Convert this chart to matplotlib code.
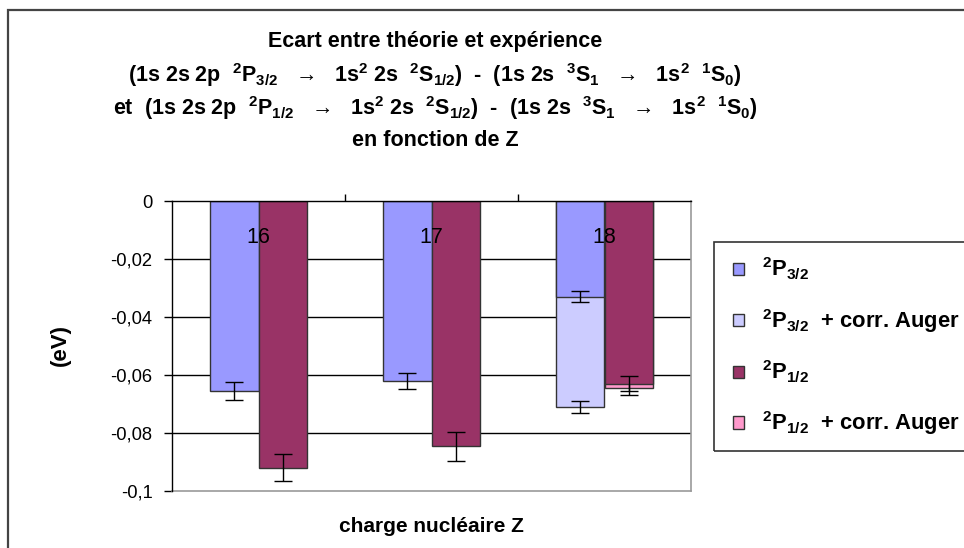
import numpy as np
import matplotlib
matplotlib.use("Agg")
import matplotlib.pyplot as plt
from matplotlib.patches import Patch, Rectangle

plt.rcParams['font.family'] = ['Liberation Sans', 'DejaVu Sans']
plt.rcParams['mathtext.default'] = 'regular'

categories = ['16', '17', '18']
p32 = [-0.0655, -0.062, -0.033]
p32_err = [0.003, 0.0027, 0.0019]
p32_auger = [np.nan, np.nan, -0.071]
p32_auger_err = [0, 0, 0.0021]
p12 = [-0.092, -0.0845, -0.063]
p12_err = [0.0047, 0.005, 0.0025]
p12_auger = [np.nan, np.nan, -0.0645]
p12_auger_err = [0, 0, 0.0025]
yticks = [0, -0.02, -0.04, -0.06, -0.08, -0.1]
ytick_labels = ['0', '-0,02', '-0,04', '-0,06', '-0,08', '-0,1']
legend_labels = [r'$^{2}$P$_{3/2}$', r'$^{2}$P$_{3/2}$  + corr. Auger',
                 r'$^{2}$P$_{1/2}$', r'$^{2}$P$_{1/2}$  + corr. Auger']
colors = ['#9999FF', '#CCCCFF', '#993366', '#FF99CC']

W, H = 964, 548
fig = plt.figure(figsize=(W / 100, H / 100), dpi=100)
ax = fig.add_axes([172 / W, 1 - 491 / H, (691 - 172) / W, (491 - 201) / H])

x = np.arange(len(categories))
w = 0.283
ekw = dict(ecolor='black', elinewidth=1, capsize=6.5, capthick=1)

ax.bar(x - w / 2, p32_auger, w, color=colors[1], edgecolor='#333333', linewidth=1,
       yerr=p32_auger_err, error_kw=ekw, zorder=2)
ax.bar(x + w / 2, p12_auger, w, color=colors[3], edgecolor='#333333', linewidth=1,
       yerr=p12_auger_err, error_kw=ekw, zorder=2)
ax.bar(x - w / 2, p32, w, color=colors[0], edgecolor='#333333', linewidth=1,
       yerr=p32_err, error_kw=ekw, zorder=3)
ax.bar(x + w / 2, p12, w, color=colors[2], edgecolor='#333333', linewidth=1,
       yerr=p12_err, error_kw=ekw, zorder=3)

ax.set_xlim(-0.5, len(categories) - 0.5)
ax.set_ylim(-0.1, 0)
ax.set_yticks(yticks)
ax.set_yticklabels(ytick_labels, fontsize=13.2)
ax.tick_params(axis='y', length=6, width=1, pad=8, direction='out')
for yv in yticks[1:-1]:
    ax.axhline(yv, color='black', linewidth=1, zorder=1)

ax.xaxis.tick_top()
ax.set_xticks(x)
ax.set_xticklabels(categories, fontsize=15.5)
ax.tick_params(axis='x', which='major', length=0, pad=-34)
ax.set_xticks(x[:-1] + 0.5, minor=True)
ax.tick_params(axis='x', which='minor', length=5, width=1, direction='out', top=True)
ax.xaxis.set_zorder(5)

for s in ['left', 'top']:
    ax.spines[s].set_color('black')
    ax.spines[s].set_linewidth(1)
    ax.spines[s].set_zorder(4)
for s in ['right', 'bottom']:
    ax.spines[s].set_color('#999999')
    ax.spines[s].set_linewidth(1.2)

fig.text(60 / W, 1 - 345 / H, '(eV)', rotation=90, fontsize=16, fontweight='bold',
         ha='center', va='center')
fig.text(431 / W, 1 - 527 / H, 'charge nucléaire Z', fontsize=15, fontweight='bold',
         ha='center', va='center')

title_lines = [
    'Ecart entre théorie et expérience',
    r'(1s 2s 2p  $^{2}$P$_{3/2}$   →   1s$^{2}$ 2s  $^{2}$S$_{1/2}$)  -  (1s 2s  $^{3}$S$_{1}$   →   1s$^{2}$  $^{1}$S$_{0}$)',
    r'et  (1s 2s 2p  $^{2}$P$_{1/2}$   →   1s$^{2}$ 2s  $^{2}$S$_{1/2}$)  -  (1s 2s  $^{3}$S$_{1}$   →   1s$^{2}$  $^{1}$S$_{0}$)',
    'en fonction de Z',
]
for i, t in enumerate(title_lines):
    fig.text(435 / W, 1 - (42 + 33 * i) / H, t, fontsize=15.5, fontweight='bold',
             ha='center', va='center')

# outer chart border
fig.add_artist(Rectangle((8 / W, -0.1), 1.2, 1 - 10 / H + 0.1, transform=fig.transFigure,
                         fill=False, edgecolor='#444444', linewidth=1.6))

# legend
handles = [Patch(facecolor=c, edgecolor='#333333', linewidth=1) for c in colors]
fig.legend(handles, legend_labels, loc='upper left', bbox_to_anchor=(733 / W, 1 - 256 / H),
           frameon=False, prop={'weight': 'bold', 'size': 15.8},
           handlelength=0.48, handleheight=0.48,
           labelspacing=1.1, handletextpad=0.85, borderaxespad=0, borderpad=0)
fig.add_artist(Rectangle((714 / W, 1 - 451 / H), 1.0, (451 - 242) / H,
                         transform=fig.transFigure, fill=False, edgecolor='#333333',
                         linewidth=1.2))

fig.savefig('out.png', dpi=100)
